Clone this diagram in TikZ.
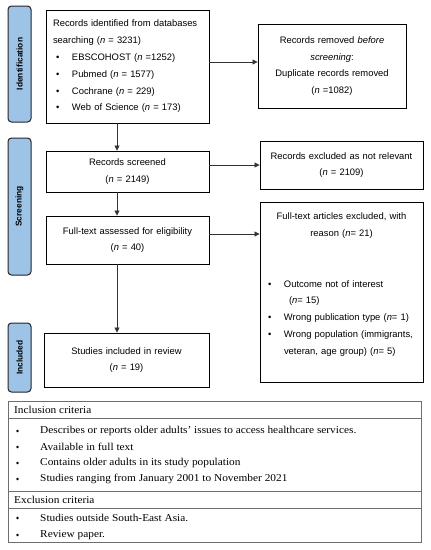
\documentclass[tikz,border=0pt]{standalone}
\usepackage{fontspec}
\setmainfont{Liberation Serif}
\setsansfont{Liberation Sans}
\newfontfamily\tabfont[FakeStretch=1.08]{Liberation Serif}
\usetikzlibrary{arrows.meta}
\definecolor{phase}{RGB}{157,195,230}
\definecolor{tline}{RGB}{110,110,110}
\tikzset{
  x=1pt, y=-1pt,
  flowbox/.style={draw=black, line width=0.9pt, rectangle, inner sep=0pt,
    font=\sffamily\fontsize{9.4}{16.8}\selectfont},
  phasebox/.style={draw=black!85, fill=phase, line width=1pt, rounded corners=3.5pt,
    inner sep=0pt, minimum width=23pt},
  phasetext/.style={rotate=90, font=\sffamily\bfseries\fontsize{8.4}{10}\selectfont},
  flowarrow/.style={draw=black!80, line width=0.8pt, -{Triangle[length=5pt,width=5pt]}},
  tabline/.style={draw=tline, line width=0.9pt},
  tabtext/.style={anchor=west, inner sep=0pt, font=\tabfont\fontsize{10.5}{12}\selectfont},
  tabbullet/.style={circle, fill=black, inner sep=0pt, minimum size=2.8pt},
}
\newcommand{\bul}{\hspace*{3pt}\makebox[16pt][l]{\textbullet}}
\begin{document}
\begin{tikzpicture}
\useasboundingbox[fill=white] (0,0) rectangle (431,550);

% phase labels
\node[phasebox, minimum height=116pt] (pid) at (19.5,64) {};
\node[phasetext] (pidt) at (pid.center) {Identification};
\node[phasebox, minimum height=137pt] (psc) at (19.5,206.5) {};
\node[phasetext] (psct) at (psc.center) {Screening};
\node[phasebox, minimum height=69pt] (pin) at (19.5,357.5) {};
\node[phasetext] (pint) at (pin.center) {Included};

% flow boxes
\node[flowbox, minimum width=163pt, minimum height=113pt, text width=149pt, align=left] (id) at (127.5,66.5)
 {Records identified from databases\\
  searching (\textit{n} = 3231)\\
  \bul EBSCOHOST (\textit{n} =1252)\\
  \bul Pubmed (\textit{n} = 1577)\\
  \bul Cochrane (\textit{n} = 229)\\
  \bul Web of Science (\textit{n} = 173)};
\node[flowbox, minimum width=148pt, minimum height=84pt, text width=140pt, align=center] (rem) at (332,66)
 {Records removed \textit{before}\\
  \textit{screening}:\\
  Duplicate records removed\\
  (\textit{n} =1082)};
\node[flowbox, minimum width=163pt, minimum height=41pt, text width=155pt, align=center] (scr) at (127.5,171.5)
 {Records screened\\ (\textit{n} = 2149)};
\node[flowbox, minimum width=163pt, minimum height=48pt, text width=160pt, align=center] (exc) at (341.5,165)
 {Records excluded as not relevant\\ (\textit{n} = 2109)};
\node[flowbox, minimum width=163pt, minimum height=48pt, text width=155pt, align=center] (ft) at (127.5,240)
 {Full-text assessed for eligibility\\ (\textit{n} = 40)};
\node[flowbox, minimum width=163pt, minimum height=180pt, text width=153pt, align=left] (exc2) at (341.5,292)
 {\centering Full-text articles excluded, with\\ reason (\textit{n}= 21)\par
  \raggedright\mbox{}\\ \mbox{}\\
  \bul Outcome not of interest\\
  \hspace*{24pt}(\textit{n}= 15)\\
  \bul Wrong publication type (\textit{n}= 1)\\
  \bul Wrong population (immigrants,\\
  \hspace*{19pt}veteran, age group) (\textit{n}= 5)\\ \mbox{}};
\node[flowbox, minimum width=165pt, minimum height=54pt, text width=155pt, align=center] (inc) at (126.5,360)
 {Studies included in review\\ (\textit{n} = 19)};

% connectors
\draw[flowarrow] (id.east |- 0,62) -- (rem.west |- 0,62);
\draw[flowarrow] (id.south -| 117,0) -- (scr.north -| 117,0);
\draw[flowarrow] (scr.east |- exc.west) -- (exc.west);
\draw[flowarrow] (scr.south -| 117,0) -- (ft.north -| 117,0);
\draw[flowarrow] (ft.east |- 0,234) -- (exc2.west |- 0,234);
\draw[flowarrow] (ft.south -| 117,0) -- (inc.north -| 117,0);

% criteria table
\coordinate (tl) at (8,401);
\coordinate (br) at (421.5,542);
\draw[tabline] (tl) rectangle (br);
\draw[tabline] (8,418) -- (421.5,418);
\draw[tabline] (8,491) -- (421.5,491);
\draw[tabline] (8,508) -- (421.5,508);

\node[tabtext] (ih) at (14,410) {Inclusion criteria};
\node[tabbullet] (i1b) at (17.5,431) {};
\node[tabtext] (i1) at (40,431) {Describes or reports older adults’ issues to access healthcare services.};
\node[tabbullet] (i2b) at (17.5,447) {};
\node[tabtext] (i2) at (40,447) {Available in full text};
\node[tabbullet] (i3b) at (17.5,463) {};
\node[tabtext] (i3) at (40,463) {Contains older adults in its study population};
\node[tabbullet] (i4b) at (17.5,479) {};
\node[tabtext] (i4) at (40,479) {Studies ranging from January 2001 to November 2021};
\node[tabtext] (eh) at (14,499.5) {Exclusion criteria};
\node[tabbullet] (e1b) at (17.5,518) {};
\node[tabtext] (e1) at (40,518) {Studies outside South-East Asia.};
\node[tabbullet] (e2b) at (17.5,535) {};
\node[tabtext] (e2) at (40,535) {Review paper.};
\end{tikzpicture}
\end{document}
